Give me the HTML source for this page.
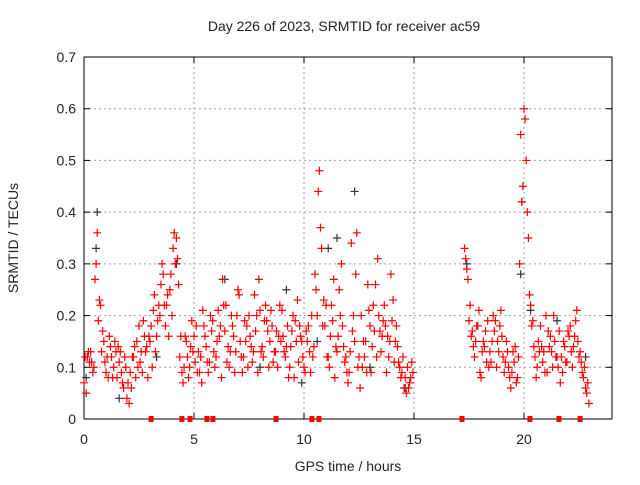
<!DOCTYPE html>
<html><head><meta charset="utf-8"><style>
body{margin:0;background:#fff;}
svg text{font-family:"Liberation Sans",sans-serif;font-size:14px;fill:#222;}
</style></head><body>
<svg width="640" height="480" xmlns="http://www.w3.org/2000/svg">
<text x="344" y="31" text-anchor="middle">Day 226 of 2023, SRMTID for receiver ac59</text>
<g id="grid"></g>
<g id="axes"></g>
<g id="marks"></g>
<text x="348" y="471" text-anchor="middle">GPS time / hours</text>
<text transform="translate(18,238) rotate(-90)" text-anchor="middle">SRMTID / TECUs</text>
</svg>
<script>
const xTicks=[0,5,10,15,20];
const yTicks=[0,0.1,0.2,0.3,0.4,0.5,0.6,0.7];
const yTickLabels=["0","0.1","0.2","0.3","0.4","0.5","0.6","0.7"];
const segStarts=[0,17.3];
const segStep=0.15;
const redA1=[.07,.12,.13,.10,.36,.22,.15,.12,.14,.10,.08,.13,.06,.04,.09,.12,.15,.11,.19,.14,.15,.21,.16,.20,.28,.22,.25,.33,.35,.12,.07,.15,.10,.13,.18,.09,.21,.14,.11,.19,.12,.16,.27,.22,.10,.18,.13,.24,.09,.15,.20,.11,.17,.27,.14,.22,.10,.18,.13,.16,.21,.12,.08,.17,.19,.11,.15,.09,.18,.20,.28,.44,.33,.18,.12,.22,.08,.16,.30,.11,.07,.34,.15,.10,.20,.12,.26,.09,.17,.31,.13,.22,.16,.28,.11,.14,.08,.06,.10,.08];
const redA2=[.05,.11,.09,.30,.23,.17,.09,.16,.08,.13,.11,.07,.10,.03,.12,.08,.18,.09,.13,.16,.10,.13,.22,.30,.18,.16,.20,.30,.26,.09,.16,.08,.19,.11,.13,.07,.16,.09,.17,.10,.21,.08,.17,.14,.20,.09,.25,.12,.19,.10,.14,.24,.09,.13,.19,.17,.21,.13,.10,.15,.13,.18,.14,.08,.23,.16,.10,.15,.09,.14,.20,.37,.23,.12,.16,.27,.13,.20,.14,.09,.13,.20,.36,.06,.15,.09,.18,.22,.12,.17,.19,.09,.15,.23,.18,.10,.12,.05,.07,.09];
const redA3=[.12,.13,.11,.27,.19,.13,.11,.08,.12,.15,.14,.09,.12,.07,.06,.14,.10,.13,.16,.08,.18,.24,.19,.26,.22,.24,.28,.36,.31,.16,.10,.12,.14,.16,.09,.12,.18,.11,.20,.13,.15,.18,.22,.11,.13,.16,.20,.15,.12,.18,.16,.13,.20,.21,.12,.19,.15,.11,.17,.22,.16,.14,.10,.20,.15,.18,.12,.17,.13,.12,.25,.48,.18,.22,.10,.19,.14,.25,.18,.12,.09,.17,.28,.12,.10,.15,.21,.14,.26,.20,.16,.18,.12,.19,.15,.11,.09,.08,.06,.11];
const redB1=[.33,.27,.16,.12,.18,.08,.14,.19,.11,.17,.15,.21,.09,.13,.06,.11,.08,.55,.60,.40,.22,.14,.10,.18,.13,.09,.16,.20,.12,.07,.15,.11,.18,.14,.21,.13,.08,.05];
const redB2=[.29,.22,.14,.18,.09,.15,.11,.13,.20,.10,.18,.12,.15,.08,.13,.07,.30,.45,.50,.24,.19,.08,.13,.11,.20,.14,.10,.12,.17,.09,.11,.16,.10,.19,.12,.09,.06,.03];
const redB3=[.31,.19,.17,.15,.21,.13,.17,.10,.15,.19,.13,.16,.11,.10,.09,.14,.12,.42,.58,.35,.18,.12,.15,.14,.09,.17,.13,.15,.10,.12,.14,.17,.13,.16,.15,.11,.10,.07];
const blackT=[0.1,0.55,0.6,1.6,3.3,4.2,6.4,8.0,9.2,9.9,10.6,11.1,11.5,12.3,13.0,14.6,17.4,19.85,19.9,20.3,21.5,22.8];
const blackV=[0.08,0.33,0.40,0.04,0.12,0.30,0.27,0.10,0.25,0.07,0.15,0.33,0.35,0.44,0.10,0.06,0.30,0.28,0.42,0.21,0.19,0.12];
const zeroT=[3.05,4.45,4.82,5.59,5.86,8.73,10.36,10.68,17.18,20.27,21.59,22.55];
const NS='http://www.w3.org/2000/svg';
const X0=84,X1=612,Y0=419,Y1=57;
const xs=h=>X0+h*22;
const ys=v=>Y0-v*(Y0-Y1)/0.7;
function mk(tag,at,parent){const e=document.createElementNS(NS,tag);for(const k in at)e.setAttribute(k,at[k]);parent.appendChild(e);return e;}
const grid=document.getElementById('grid'),axes=document.getElementById('axes'),marks=document.getElementById('marks');
yTicks.forEach((v,i)=>{
  if(v>0&&v<0.7){const l=mk('line',{x1:X0,x2:X1,y1:ys(v),y2:ys(v),stroke:'#a0a0a0','stroke-dasharray':'2,3'},grid);
  
  }
  const t=mk('text',{x:X0-8,y:ys(v)+5,'text-anchor':'end'},axes);t.textContent=yTickLabels[i];
  
  
  mk('line',{x1:X0,x2:X0+6,y1:ys(v),y2:ys(v),stroke:'#000'},axes);
  mk('line',{x1:X1,x2:X1-6,y1:ys(v),y2:ys(v),stroke:'#000'},axes);
});
xTicks.forEach(h=>{
  if(h>0){const l=mk('line',{x1:xs(h),x2:xs(h),y1:Y0,y2:Y1,stroke:'#a0a0a0','stroke-dasharray':'2,3'},grid);
  
  }
  const t=mk('text',{x:xs(h),y:Y0+25,'text-anchor':'middle'},axes);t.textContent=String(h);
  
  
  mk('line',{x1:xs(h),x2:xs(h),y1:Y0,y2:Y0-6,stroke:'#000'},axes);
  mk('line',{x1:xs(h),x2:xs(h),y1:Y1,y2:Y1+6,stroke:'#000'},axes);
});
const frame=mk('rect',{x:X0,y:Y1,width:X1-X0,height:Y0-Y1,fill:'none',stroke:'#000'},axes);


function plus(h,v,c){const x=xs(h),y=ys(v);
  const p=mk('path',{d:`M${x-4},${y}h8M${x},${y-4}v8`,stroke:c,'stroke-width':1.2,fill:'none'},marks);
  
  }
blackT.forEach((h,i)=>plus(h,blackV[i],'#333'));
[[redA1,redA3,redA2],[redB1,redB3,redB2]].forEach((set,s)=>{
  set.forEach((arr,k)=>arr.forEach((v,i)=>plus(segStarts[s]+i*segStep+k*segStep/3,v,'#ff0000')));
});
zeroT.forEach(h=>{const r=mk('rect',{x:xs(h)-2.5,y:Y0-3,width:5,height:6,fill:'#ff0000'},marks);
  
  });
</script>
</body></html>
